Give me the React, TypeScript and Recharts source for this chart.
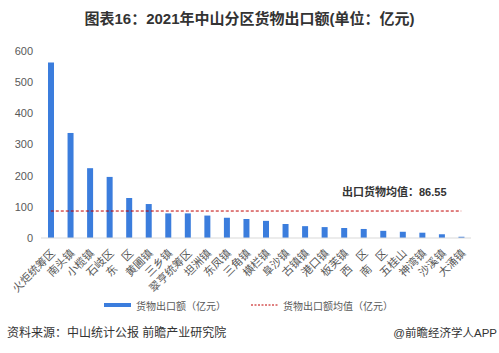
import React from "react";
import { ComposedChart, Bar, Line, XAxis, YAxis } from "recharts";

const categories = ["火炬统筹区", "南头镇", "小榄镇", "石岐区", "东　区", "黄圃镇", "三乡镇", "翠亨统筹区", "坦洲镇", "东凤镇", "三角镇", "横栏镇", "阜沙镇", "古镇镇", "港口镇", "板芙镇", "西　区", "南　区", "五桂山", "神湾镇", "沙溪镇", "大涌镇"];
const exportValues = [563, 337, 224, 196, 128, 109, 79, 79, 72, 65, 61, 55, 45, 38, 35, 32, 29, 23, 20, 17, 12, 4];
const meanValue = 86.55;
const yTicks = [0, 100, 200, 300, 400, 500, 600];

const data = categories.map((name, i) => ({ name, value: exportValues[i], mean: meanValue }));

const FONT = "'Liberation Sans', Arial, 'Noto Sans CJK SC', sans-serif";

const XTick = (props: any) => {
  const { x, y, payload } = props;
  const ax = x + 5;
  const ay = y + 8;
  return (
    <text x={ax} y={ay} transform={`rotate(-45, ${ax}, ${ay})`} textAnchor="end" fontSize={11} fill="#595959" fontFamily={FONT}>
      {payload.value}
    </text>
  );
};

export default function App() {
  return (
    <div style={{ position: "absolute", left: 0, top: 0, width: 499, height: 353, background: "#fff", fontFamily: FONT, overflow: "hidden" }}>
      <div style={{ position: "absolute", left: 0, width: 499, top: 9, textAlign: "center", fontSize: 15, fontWeight: "bold", color: "#333", lineHeight: "20px" }}>
        图表16：2021年中山分区货物出口额(单位：亿元)
      </div>
      <ComposedChart width={499} height={353} data={data} margin={{ top: 51, right: 28, left: 0, bottom: 60 }} style={{ position: "absolute", left: 0, top: 0 }}>
        <XAxis dataKey="name" interval={0} tick={<XTick />} tickLine={false} axisLine={{ stroke: "#d9d9d9" }} height={55} />
        <YAxis domain={[0, 600]} ticks={yTicks} width={41} tickLine={false} axisLine={false} tick={{ fontSize: 11, fill: "#595959", fontFamily: FONT }} />
        <Bar dataKey="value" fill="#3b7ddd" barSize={6} isAnimationActive={false} />
        <Line dataKey="mean" type="linear" stroke="#c00000" strokeWidth={1} strokeDasharray="3 2" dot={false} activeDot={false} isAnimationActive={false} />
      </ComposedChart>
      <div style={{ position: "absolute", left: 342, top: 185, fontSize: 11, fontWeight: "bold", color: "#333", whiteSpace: "nowrap", lineHeight: "14px" }}>
        出口货物均值：86.55
      </div>
      <div style={{ position: "absolute", left: 104, top: 297, height: 16, display: "flex", alignItems: "center", fontSize: 10, color: "#595959", whiteSpace: "nowrap" }}>
        <span style={{ display: "inline-block", width: 27, height: 4, background: "#3b7ddd", marginRight: 5 }} />
        <span>货物出口额（亿元）</span>
        <svg width={27} height={4} style={{ marginLeft: 25, marginRight: 5 }}>
          <line x1={0} y1={2} x2={27} y2={2} stroke="#c00000" strokeWidth={1} strokeDasharray="2 1.5" />
        </svg>
        <span>货物出口额均值（亿元）</span>
      </div>
      <div style={{ position: "absolute", left: 7, top: 325, fontSize: 12, color: "#333", whiteSpace: "nowrap", lineHeight: "16px" }}>
        资料来源：中山统计公报 前瞻产业研究院
      </div>
      <div style={{ position: "absolute", right: 2, top: 325, fontSize: 11.5, color: "#333", whiteSpace: "nowrap", lineHeight: "16px" }}>
        @前瞻经济学人APP
      </div>
    </div>
  );
}
